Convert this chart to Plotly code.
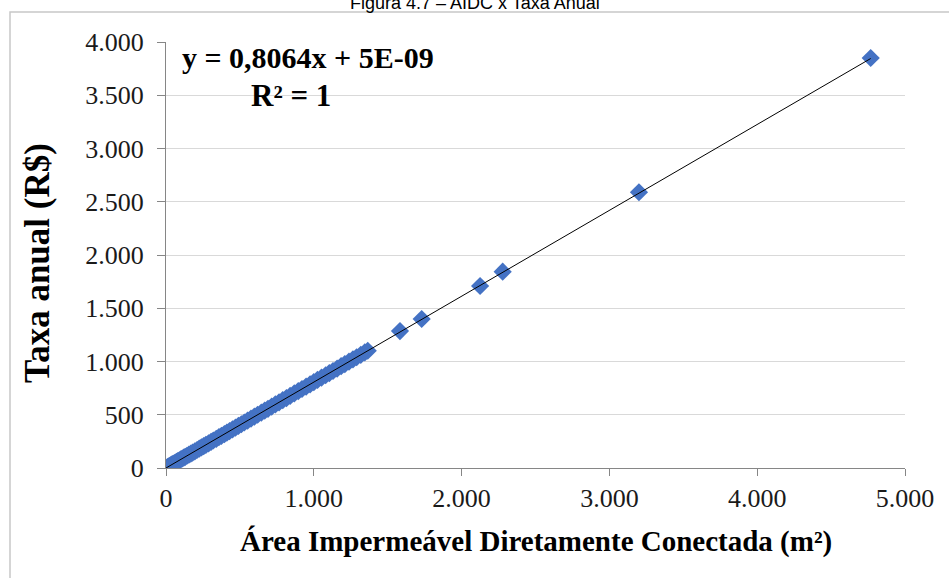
import plotly.graph_objects as go

# AIDC (m²) and annual fee (R$)
area_m2 = [0, 8, 15, 22, 30, 38, 45, 55, 63, 72, 80, 90, 100, 110, 120, 130, 142, 155, 168, 180,
           195, 210, 225, 240, 255, 270, 288, 305, 320, 340, 358, 375, 395, 412, 430, 450, 470, 490,
           510, 530, 552, 575, 598, 620, 645, 668, 690, 715, 740, 765, 790, 815, 840, 868, 895, 920,
           948, 975, 1000, 1025, 1052, 1080, 1105, 1130, 1158, 1185, 1210, 1238, 1265, 1290, 1318,
           1345, 1365, 1583, 1730, 2125, 2278, 3200, 4768]
taxa_rs = [0, 6, 12, 18, 24, 31, 36, 44, 51, 58, 65, 73, 81, 89, 97, 105, 115, 125, 135, 145,
           157, 169, 181, 194, 206, 218, 232, 246, 258, 274, 289, 302, 319, 332, 347, 363, 379, 395,
           411, 427, 445, 464, 482, 500, 520, 539, 556, 577, 597, 617, 637, 657, 677, 700, 722, 742,
           764, 786, 806, 827, 848, 871, 891, 911, 934, 956, 976, 998, 1020, 1040, 1063, 1085, 1101,
           1286, 1399, 1709, 1843, 2589, 3850]

trend_x = [0, 4768]
trend_y = [5e-09, 3845]

x_ticks = [0, 1000, 2000, 3000, 4000, 5000]
y_ticks = [0, 500, 1000, 1500, 2000, 2500, 3000, 3500, 4000]

SERIF = "Liberation Serif"

fig = go.Figure()
fig.add_trace(go.Scatter(
    x=area_m2, y=taxa_rs, mode="markers",
    marker=dict(symbol="diamond", size=14, color="#4472C4", line=dict(width=0)),
    showlegend=False, hoverinfo="x+y"))
fig.add_trace(go.Scatter(
    x=trend_x, y=trend_y, mode="lines",
    line=dict(color="#000000", width=1), showlegend=False, hoverinfo="skip"))

L, R, T, B = 166, 44, 42, 110
W, H = 949, 578
pw, ph = W - L - R, H - T - B

def px_x(p):
    return (p - L) / pw

def px_y(p):
    return 1 - (p - T) / ph

fig.update_layout(
    width=W, height=H,
    margin=dict(l=L, r=R, t=T, b=B, autoexpand=False),
    paper_bgcolor="white", plot_bgcolor="white",
    separators=",.",
    xaxis=dict(range=[0, 5000], tickvals=x_ticks, tickformat=",.0f",
               showgrid=False, zeroline=False, showline=True, linecolor="#868686", linewidth=1,
               ticks="outside", ticklen=7, tickcolor="#868686",
               tickfont=dict(family=SERIF, size=26, color="#1a1a1a")),
    yaxis=dict(range=[0, 4000], tickvals=y_ticks, tickformat=",.0f",
               showgrid=True, gridcolor="#d9d9d9", gridwidth=1, zeroline=False,
               showline=True, linecolor="#868686", linewidth=1,
               ticks="outside", ticklen=8, tickcolor="#868686", ticklabelstandoff=8,
               tickfont=dict(family=SERIF, size=26, color="#1a1a1a")),
    shapes=[dict(type="rect", xref="paper", yref="paper",
                 x0=px_x(10), x1=px_x(980), y0=px_y(600), y1=px_y(12),
                 line=dict(color="#c8c8c8", width=1.5), fillcolor="rgba(0,0,0,0)", layer="below")],
    annotations=[
        dict(text="Figura 4.7 – AIDC x Taxa Anual", xref="paper", yref="paper",
             x=px_x(475), y=px_y(3), xanchor="center", yanchor="middle", showarrow=False,
             font=dict(family="Liberation Sans", size=18, color="#000000")),
        dict(text="<b>y = 0,8064x + 5E-09</b>", xref="paper", yref="paper",
             x=px_x(308), y=px_y(58), xanchor="center", yanchor="middle", showarrow=False,
             font=dict(family=SERIF, size=30, color="#000000")),
        dict(text="<b>R² = 1</b>", xref="paper", yref="paper",
             x=px_x(291), y=px_y(95), xanchor="center", yanchor="middle", showarrow=False,
             font=dict(family=SERIF, size=31, color="#000000")),
        dict(text="<b>Área Impermeável Diretamente Conectada (m²)</b>", xref="paper", yref="paper",
             x=px_x(536), y=px_y(541), xanchor="center", yanchor="middle", showarrow=False,
             font=dict(family=SERIF, size=29, color="#000000")),
        dict(text="<b>Taxa anual (R$)</b>", xref="paper", yref="paper",
             x=px_x(37), y=px_y(263), xanchor="center", yanchor="middle", showarrow=False,
             textangle=-90, font=dict(family=SERIF, size=35, color="#000000")),
    ],
)

fig.write_html("out.html", config={"displayModeBar": False},
               post_script="document.body.style.margin='0px';")
